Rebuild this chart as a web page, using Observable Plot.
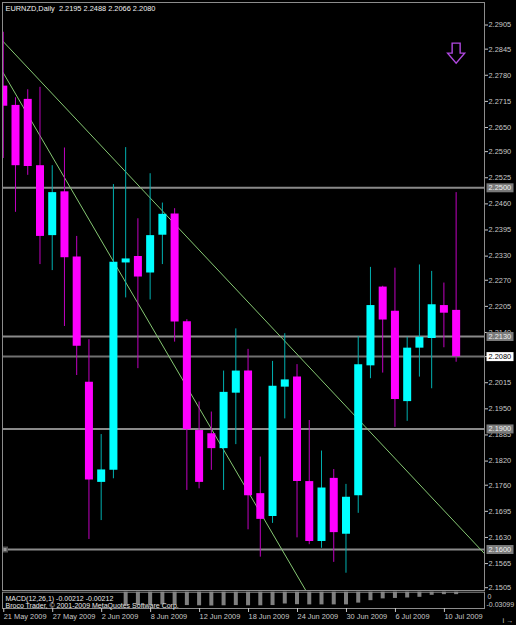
<!DOCTYPE html>
<html><head><meta charset="utf-8">
<script src="https://cdn.jsdelivr.net/npm/d3@7"></script>
<script src="https://cdn.jsdelivr.net/npm/@observablehq/plot@0.6"></script>
<style>
html,body{margin:0;padding:0;background:#000;}
#wrap{position:relative;width:516px;height:625px;overflow:hidden;background:#000;}
#wrap svg{position:absolute;left:0;display:block;}
</style></head><body><div id="wrap"></div>
<script>
// ---------- data ----------
const symbolName = "EURNZD";
const period = "Daily";
const dates = ["2009-05-21","2009-05-22","2009-05-25","2009-05-26","2009-05-27","2009-05-28","2009-05-29","2009-06-01","2009-06-02","2009-06-03","2009-06-04","2009-06-05","2009-06-08","2009-06-09","2009-06-10","2009-06-11","2009-06-12","2009-06-15","2009-06-16","2009-06-17","2009-06-18","2009-06-19","2009-06-22","2009-06-23","2009-06-24","2009-06-25","2009-06-26","2009-06-29","2009-06-30","2009-07-01","2009-07-02","2009-07-03","2009-07-06","2009-07-07","2009-07-08","2009-07-09","2009-07-10","2009-07-13"];
const open  = [2.2753,2.2705,2.2720,2.2555,2.2381,2.2490,2.2328,2.2016,2.1767,2.1797,2.2313,2.2329,2.2288,2.2382,2.2435,2.2167,2.1896,2.1888,2.1851,2.1989,2.2044,2.1739,2.1682,2.2004,2.2029,2.1769,2.1620,2.1777,2.1638,2.1734,2.2057,2.2253,2.2193,2.1968,2.2101,2.2125,2.2207,2.2195];
const high  = [2.2887,2.2724,2.2744,2.2750,2.2555,2.2599,2.2379,2.2122,2.1886,2.2508,2.2600,2.2423,2.2535,2.2462,2.2448,2.2172,2.1967,2.1942,2.2044,2.2149,2.2098,2.1830,2.2068,2.2137,2.2060,2.1921,2.1845,2.1799,2.1762,2.2130,2.2302,2.2255,2.2300,2.2128,2.2308,2.2292,2.2263,2.2488];
const low   = [2.2573,2.2439,2.2531,2.2309,2.2294,2.2155,2.2033,2.1625,2.1672,2.1776,2.2226,2.2050,2.2221,2.2309,2.2116,2.1747,2.1751,2.1797,2.1747,2.1861,2.1649,2.1581,2.1665,2.1925,2.1629,2.1612,2.1603,2.1568,2.1541,2.1690,2.2025,2.2039,2.1904,2.1919,2.2029,2.2000,2.2102,2.2066];
const close = [2.2703,2.2555,2.2553,2.2379,2.2488,2.2326,2.2106,2.1773,2.1798,2.2315,2.2323,2.2278,2.2381,2.2434,2.2166,2.1898,2.1767,2.1851,2.1991,2.2044,2.1734,2.1675,2.2006,2.2022,2.1769,2.1620,2.1753,2.1642,2.1730,2.2060,2.2207,2.2171,2.1973,2.2101,2.2128,2.2209,2.2188,2.2080];
const macdValues = [0,0,0,0,0,0,0,0,0,0,-0.0290,-0.0295,-0.0290,-0.0285,-0.0290,-0.0300,-0.0305,-0.0310,-0.0305,-0.0300,-0.0305,-0.0305,-0.0300,-0.0265,-0.0280,-0.0285,-0.0285,-0.0285,-0.0285,-0.0245,-0.0190,-0.0150,-0.0140,-0.0130,-0.0115,-0.0070,-0.0055,-0.0055];
const macdLabel = "MACD(12,26,1) -0.00212 -0.00212";
const copyright = "Broco Trader, \u00a9 2001-2009 MetaQuotes Software Corp.";
const macdScaleLabels = ["0", "-0.03099"];
const priceTicks = [2.2905,2.2845,2.2780,2.2715,2.2650,2.2590,2.2525,2.2460,2.2395,2.2330,2.2270,2.2205,2.2140,2.2080,2.2015,2.1950,2.1885,2.1820,2.1760,2.1695,2.1630,2.1565,2.1505];
const dateTickIdx = [0,4,8,12,16,20,24,28,32,36];
const levels = [2.2500,2.2130,2.2080,2.1900,2.1600];
const currentPrice = 2.2080;
const selectedLevel = [2.1600];
const trendA = [{i:-0.04,p:2.2865},{i:39.34,p:2.1589}];
const trendB = [{i:-0.04,p:2.2788},{i:24.72,p:2.1498}];
const signals = [{i:37,p:2.2860}];

// ---------- build ----------
const candles = dates.map((d,i)=>({i, date:d, o:open[i], h:high[i], l:low[i], c:close[i]}));
const macdData = macdValues.map((v,i)=>({i, v}));
const parse = d3.utcParse("%Y-%m-%d"), fmtDate = d3.utcFormat("%-d %b %Y");
const last = candles[candles.length-1];
const title = `${symbolName},${period}\u00a0\u00a0${[last.o,last.h,last.l,last.c].map(v=>v.toFixed(4)).join(" ")}`;

const BULL = "#00ffff", BEAR = "#ff00ff", BULLW = "#00b0b0", BEARW = "#c000c0";
const GRID = "#8a8a8a", TXT = "#c8c8c8";
const font = "'Liberation Sans', Arial, sans-serif";
const xDomain = [-0.062, 39.317];

const arrowSymbol = {draw(ctx){ ctx.moveTo(-4,0); ctx.lineTo(4,0); ctx.lineTo(4,10); ctx.lineTo(8.5,10); ctx.lineTo(0,20); ctx.lineTo(-8.5,10); ctx.lineTo(-4,10); ctx.closePath(); }};
const boxSymbol = {draw(ctx){ ctx.rect(2,-4.5,27,9); }};

const main = Plot.plot({
  width: 516, height: 592,
  marginTop: 2, marginBottom: 2, marginLeft: 2, marginRight: 32,
  x: {domain: xDomain, axis: null},
  y: {domain: [2.149801, 2.296106], axis: null},
  style: {background: "#000", color: TXT, fontFamily: font, fontSize: "7.4px", overflow: "visible"},
  marks: [
    Plot.ruleY(levels, {y: d=>d, stroke: d => d===currentPrice ? "#707070" : GRID, strokeWidth: 2}),
    Plot.line(trendA, {x:"i", y:"p", stroke:"#86c873", strokeWidth:1, clip:true}),
    Plot.line(trendB, {x:"i", y:"p", stroke:"#86c873", strokeWidth:1, clip:true}),
    Plot.ruleX(candles, {x:"i", y1:"l", y2:"h", stroke: d=> d.c>=d.o ? BULLW : BEARW, strokeWidth:1, clip:true}),
    Plot.ruleX(candles, {x:"i", y1:"o", y2:"c", stroke: d=> d.c>=d.o ? BULL : BEAR, strokeWidth:8, clip:true}),
    Plot.dot(signals, {x:"i", y:"p", symbol: arrowSymbol, r: 6, stroke:"#b048e0", fill:"none", strokeWidth:1.4}),
    Plot.dot(selectedLevel, {y: d=>d, frameAnchor:"left", dx: 2.5, symbol:"square", r: 2.5, fill:"#9a9a9a", stroke:"#555"}),
    Plot.frame({stroke: "#8c8c8c"}),
    Plot.axisY(priceTicks, {anchor:"right", tickSize:3, tickPadding:1, tickFormat: d=>d.toFixed(4), color: TXT, fontSize: 7.4}),
    Plot.dot(levels, {y: d=>d, frameAnchor:"right", symbol: boxSymbol, r: 5, fill: d => d===currentPrice ? "#ffffff" : "#7a7a7a", stroke: "none"}),
    Plot.text(levels, {y: d=>d, frameAnchor:"right", dx: 4, textAnchor:"start", text: d=>d.toFixed(4), fill: d => d===currentPrice ? "#000" : "#f0f0f0", fontSize: 7.4}),
    Plot.text([title], {frameAnchor:"top-left", dx:3, dy:6, textAnchor:"start", lineAnchor:"middle", fill:"#f0f0f0", fontSize: 7.4})
  ]
});
main.style.top = "0px";

const sub = Plot.plot({
  width: 516, height: 35,
  marginTop: 1.7, marginBottom: 17, marginLeft: 2, marginRight: 32,
  x: {domain: xDomain, axis: null},
  y: {domain: [-0.0366, 0], axis: null},
  style: {background: "transparent", color: TXT, fontFamily: font, fontSize: "7.4px", overflow: "visible"},
  marks: [
    Plot.ruleX(macdData, {x:"i", y1: 0, y2: "v", stroke:"#808080", strokeWidth:4}),
    Plot.frame({stroke: "#8c8c8c"}),
    Plot.text([macdLabel], {frameAnchor:"top-left", dx:3, dy:6.8, textAnchor:"start", lineAnchor:"middle", fill:"#e8e8e8", fontSize: 7}),
    Plot.text([copyright], {frameAnchor:"top-left", dx:3, dy:13.9, textAnchor:"start", lineAnchor:"middle", fill:"#e8e8e8", fontSize: 7}),
    Plot.text([macdScaleLabels[0]], {frameAnchor:"top-right", dx:3, dy:5, textAnchor:"start", lineAnchor:"middle", fill: TXT, fontSize: 7}),
    Plot.text([macdScaleLabels[1]], {frameAnchor:"bottom-right", dx:2, dy:-4, textAnchor:"start", lineAnchor:"middle", fill: TXT, fontSize: 7}),
    Plot.axisX(dateTickIdx, {anchor:"bottom", tickSize:4, tickPadding:1.5, tickFormat: i => fmtDate(parse(dates[i])), textAnchor:"start", dx: 0.5, color: TXT, fontSize: 7.4})
  ]
});
sub.style.top = "590px";

const wrap = document.getElementById("wrap");
wrap.appendChild(main);
wrap.appendChild(sub);
</script>
</body></html>
